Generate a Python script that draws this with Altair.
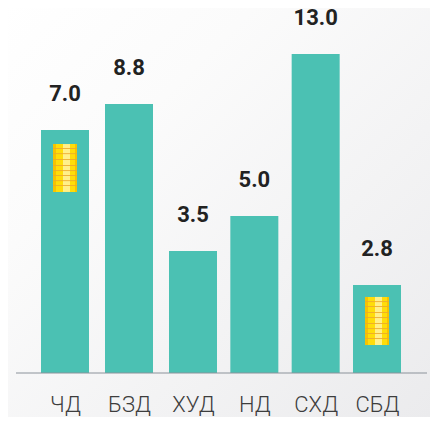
import altair as alt
import pandas as pd

categories = ["ЧД", "БЗД", "ХУД", "НД", "СХД", "СБД"]
value_labels = ["7.0", "8.8", "3.5", "5.0", "13.0", "2.8"]
# drawn heights differ from the printed numbers in the source picture
bar_heights = [9.9, 10.96, 4.97, 6.40, 13.0, 3.59]
coin_slots = [0, 5]
coin_bottoms = [7.38, 1.14]
coin_tops = [9.33, 3.10]
coin_seams = [
    [9.13, 8.92, 8.68, 8.44, 8.23, 8.03, 7.82, 7.62],
    [2.89, 2.69, 2.45, 2.24, 2.00, 1.79, 1.59, 1.39],
]

bars = pd.DataFrame({
    "slot": list(range(len(categories))),
    "height": bar_heights,
    "label": value_labels,
})
coins = pd.DataFrame({"slot": coin_slots, "bottom": coin_bottoms, "top": coin_tops})
seams = pd.DataFrame(
    [{"slot": s, "seam": v} for s, row in zip(coin_slots, coin_seams) for v in row]
)

x_scale = alt.Scale(domain=[0, 2, 5], range=[49, 177, 361], padding=0, nice=False, zero=False)
y_scale = alt.Scale(domain=[0, 14.875], nice=False)
label_expr = "[" + ",".join(f"'{c}'" for c in categories) + "][datum.value]"
x_enc = alt.X(
    "slot:Q",
    scale=x_scale,
    axis=alt.Axis(
        values=list(range(len(categories))),
        labelExpr=label_expr,
        title=None,
        grid=False,
        ticks=False,
        domain=False,
        labelFont="Roboto",
        labelFontSize=22,
        labelFontWeight=300,
        labelColor="#3d3d3d",
        labelPadding=21,
        labelFlush=False,
        labelOverlap=False,
        zindex=1,
    ),
)
y_enc = alt.Y("height:Q", scale=y_scale, axis=None)

backdrop = alt.Chart(pd.DataFrame({"a": [0]})).mark_rect(
    color=alt.Gradient(
        gradient="linear", x1=0, y1=0, x2=1, y2=1,
        stops=[alt.GradientStop(color="#ffffff", offset=0),
               alt.GradientStop(color="#fbfbfb", offset=0.3),
               alt.GradientStop(color="#ebebed", offset=1)],
    )
).encode(x=alt.value(-8), x2=alt.value(414), y=alt.value(-8), y2=alt.value(409))

baseline = alt.Chart(pd.DataFrame({"a": [0]})).mark_rule(color="#8b929a", strokeWidth=1).encode(
    x=alt.value(0), x2=alt.value(411), y=alt.value(365)
)

bar_layer = alt.Chart(bars).mark_bar(width=48, color="#4bc1b3").encode(x=x_enc, y=y_enc)
text_layer = alt.Chart(bars).mark_text(
    font="Roboto", fontSize=22, fontWeight=700, color="#222222", baseline="alphabetic", dy=-29
).encode(x=x_enc, y=y_enc, text="label:N")


def stripe(width, colour, offset=0):
    return alt.Chart(coins).mark_bar(width=width, color=colour, xOffset=offset).encode(
        x=x_enc,
        y=alt.Y("bottom:Q", scale=y_scale, axis=None),
        y2="top:Q",
    )


coin_layers = [
    stripe(24, "#ffdd0a"),
    stripe(3, "#f7c300", -10.5),
    stripe(2, "#f7c300", 11),
    stripe(7, "#fff08a", 1.5),
]
seam_layer = (
    alt.Chart(seams)
    .transform_calculate(seam_top="datum.seam + 0.035")
    .mark_bar(width=24, color="#eda92e")
    .encode(
        x=x_enc,
        y=alt.Y("seam:Q", scale=y_scale, axis=None),
        y2="seam_top:Q",
    )
)

chart = alt.layer(backdrop, bar_layer, baseline, *coin_layers, seam_layer, text_layer).properties(
    width=411,
    height=365,
    padding={"left": 8, "top": 0, "right": 3, "bottom": 44},
    autosize=alt.AutoSizeParams(type="none"),
).configure_view(stroke=None)

chart.save("out.html", embed_options={"renderer": "svg", "actions": False})
